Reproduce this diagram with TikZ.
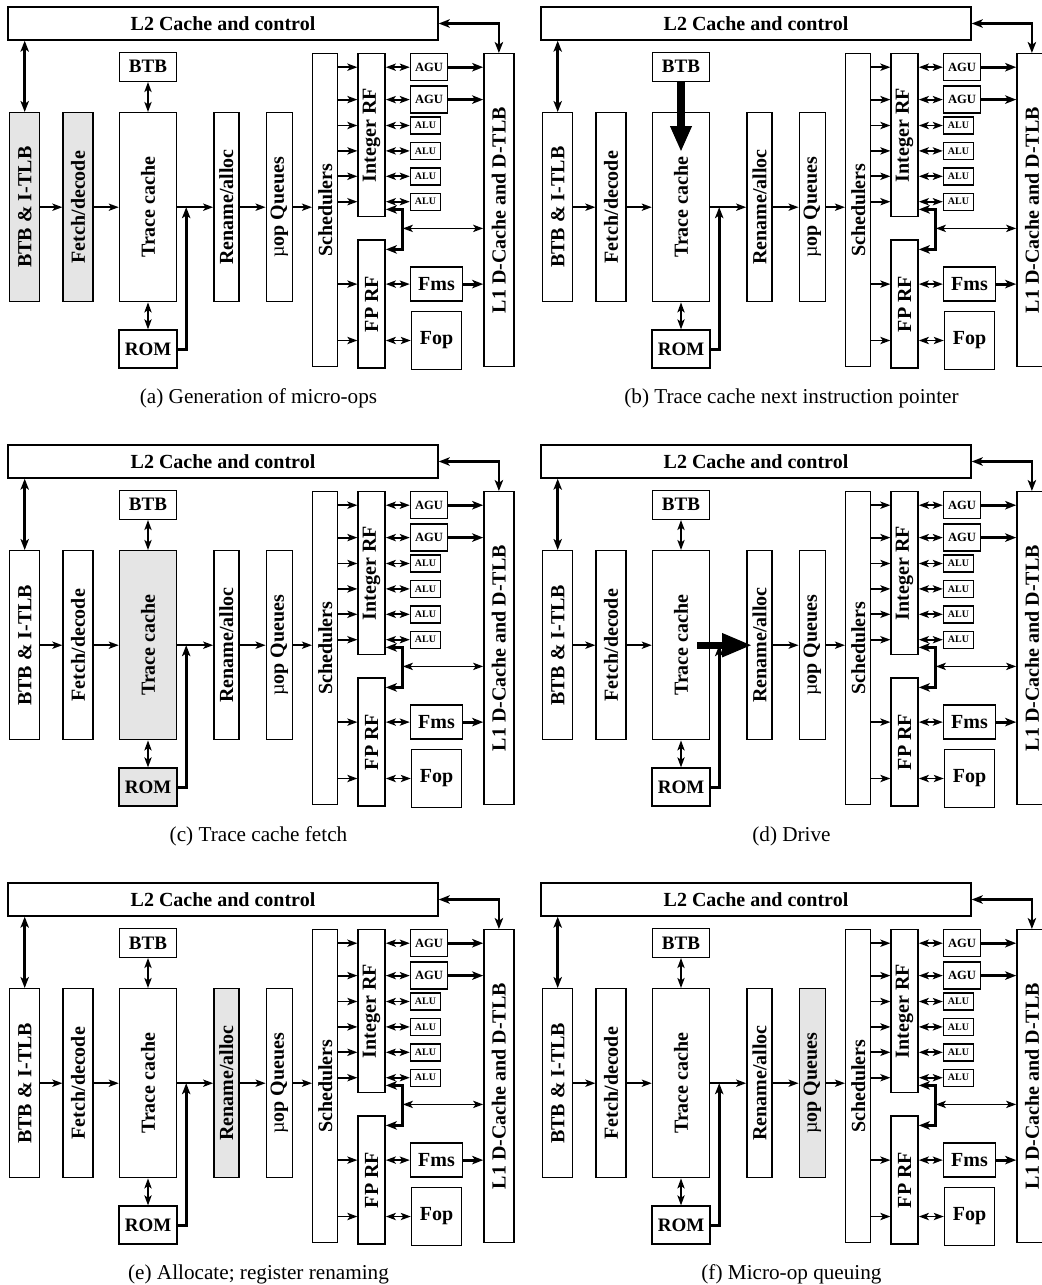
\documentclass[tikz,border=0pt]{standalone}
\usepackage{fontspec}
\setmainfont{Liberation Serif}
\usepackage{graphicx}
\usetikzlibrary{positioning,arrows.meta,calc}

\tikzset{
  box/.style={draw, line width=0.7pt, inner sep=0pt, align=center, font=\bfseries\fontsize{10}{12}\selectfont},
  tall/.style={box, minimum width=15pt, minimum height=94.5pt},
  agubox/.style={box, minimum width=18.5pt, minimum height=13.5pt, font=\bfseries\fontsize{6.3}{7}\selectfont},
  alubox/.style={box, minimum width=15pt, minimum height=8.5pt, font=\bfseries\fontsize{5}{6}\selectfont},
  hi/.style={fill=black!10},
  hlbpu/.style={}, hlfetch/.style={}, hltrace/.style={}, hlrom/.style={}, hlrename/.style={}, hlqueue/.style={},
  ln/.style={line width=0.9pt, >={Stealth[length=5pt,width=3.6pt,inset=1.2pt]}},
  thk/.style={line width=1.4pt, >={Stealth[length=5.5pt,width=4.2pt,inset=1.4pt]}},
  bigarrow/.style={line width=3.6pt, -{Triangle[length=13pt,width=10pt]}},
  captext/.style={font=\fontsize{10.6}{12}\selectfont}
}

% one pipeline panel: #1 name prefix, #2 caption
\newcommand{\stagepanel}[2]{%
  \node[box, minimum width=215pt, minimum height=16.5pt] (#1l2) at (111.5pt,-11.75pt) {L2 Cache and control};
  % front end
  \node[tall, hlbpu, anchor=north west] (#1bpu) at (4.5pt,-56pt) {\rotatebox{90}{BTB \& I-TLB}};
  \node[tall, hlfetch, right=11pt of #1bpu] (#1fetch) {\rotatebox{90}{Fetch/decode}};
  \node[tall, hltrace, minimum width=28.5pt, right=12.5pt of #1fetch] (#1trace) {\rotatebox{90}{Trace cache}};
  \node[tall, hlrename, minimum width=12.5pt, right=18pt of #1trace] (#1rename) {\rotatebox{90}{Rename/alloc}};
  \node[tall, hlqueue, minimum width=13pt, right=13pt of #1rename] (#1queue) {\rotatebox{90}{{\mdseries µ}op Queues}};
  \node[box, minimum width=28.5pt, minimum height=14.5pt, font=\bfseries\fontsize{9.5}{11}\selectfont, above=15pt of #1trace] (#1btb) {BTB};
  \node[box, hlrom, minimum width=29pt, minimum height=19pt, font=\bfseries\fontsize{9.5}{11}\selectfont, below=13.5pt of #1trace] (#1rom) {ROM};
  % back end
  \node[box, minimum width=12.5pt, minimum height=156.5pt, anchor=north west] (#1sched) at (156pt,-26.5pt) {\rotatebox{90}{Schedulers}};
  \node[box, minimum width=13.5pt, minimum height=81.5pt, right=9.5pt of #1sched.north east, anchor=north west] (#1intrf) {\rotatebox{90}{Integer RF}};
  \node[box, minimum width=13.5pt, minimum height=64pt, below=11pt of #1intrf] (#1fprf) {\rotatebox{90}{FP RF}};
  \node[agubox, right=12pt of #1intrf.north east, anchor=north west] (#1agu1) {AGU};
  \node[agubox, below=2pt of #1agu1] (#1agu2) {AGU};
  \node[alubox, below=1.25pt of #1agu2.south west, anchor=north west] (#1alu1) {ALU};
  \node[alubox, below=3.5pt of #1alu1] (#1alu2) {ALU};
  \node[alubox, below=3.5pt of #1alu2] (#1alu3) {ALU};
  \node[alubox, below=3.5pt of #1alu3] (#1alu4) {ALU};
  \node[box, minimum width=26pt, minimum height=17pt, below right=13.5pt and 12pt of #1fprf.north east] (#1fms) {Fms};
  \node[box, minimum width=25pt, minimum height=29pt, below=4.5pt of #1fms] (#1fop) {Fop};
  \node[box, minimum width=15pt, minimum height=156.5pt, right=17.5pt of #1agu1.north east, anchor=north west] (#1l1) {\rotatebox{90}{L1 D-Cache and D-TLB}};
  \node[captext] (#1cap) at (129.25pt,-199pt) {#2};
  % connectors
  \draw[thk,<->] (#1l2.south -| #1bpu) -- (#1bpu.north);
  \draw[thk,<->] (#1l2.east) -| (#1l1.north);
  \draw[ln,<->] (#1btb) -- (#1trace);
  \draw[ln,<->] (#1trace) -- (#1rom);
  \draw[ln,->] (#1bpu) -- (#1fetch);
  \draw[ln,->] (#1fetch) -- (#1trace);
  \draw[ln,->] (#1trace) -- (#1rename);
  \draw[ln,->] (#1rename) -- (#1queue);
  \draw[ln,->] (#1queue) -- (#1queue -| #1sched.west);
  \draw[thk,->] (#1rom) -| ($(#1trace.east)!0.25!(#1rename.west)$);
  \foreach \u in {agu1,agu2,alu1,alu2,alu3,alu4}{
    \draw[ln,->] (#1sched.east |- #1\u) -- (#1intrf.west |- #1\u);
    \draw[ln,<->] (#1intrf.east |- #1\u) -- (#1\u.west);
  }
  \foreach \u in {fms,fop}{
    \draw[ln,->] (#1sched.east |- #1\u) -- (#1fprf.west |- #1\u);
    \draw[ln,<->] (#1fprf.east |- #1\u) -- (#1\u.west);
  }
  \draw[thk,->] (#1agu1) -- (#1agu1 -| #1l1.west);
  \draw[thk,->] (#1agu2) -- (#1agu2 -| #1l1.west);
  \draw[thk,->] (#1fms) -- (#1fms -| #1l1.west);
  \draw[thk,<->] ($(#1intrf.south east)+(0,4pt)$) -- ++(8.5pt,0) |- ($(#1fprf.north east)+(0,-5pt)$);
  \coordinate (#1bus) at ($(#1intrf.south east)!0.5!(#1fprf.north east)+(8.5pt,0)$);
  \draw[ln,<->] (#1bus) -- (#1bus -| #1l1.west);
}

\begin{document}
\begin{tikzpicture}
\useasboundingbox (0,0) rectangle (521pt,-642.5pt);

\begin{scope}[hlbpu/.style={hi}, hlfetch/.style={hi}]
  \stagepanel{a}{(a) Generation of micro-ops}
\end{scope}

\begin{scope}[shift={(266.5pt,0pt)}]
  \stagepanel{b}{(b) Trace cache next instruction pointer}
  \coordinate (btip) at ($(bbtb.south)+(0,-35pt)$);
  \draw[bigarrow] (bbtb.south) -- (btip);
\end{scope}

\begin{scope}[shift={(0pt,-219pt)}, hltrace/.style={hi}, hlrom/.style={hi}]
  \stagepanel{c}{(c) Trace cache fetch}
\end{scope}

\begin{scope}[shift={(266.5pt,-219pt)}]
  \stagepanel{d}{(d) Drive}
  \coordinate (dfrom) at ($(dtrace.east)+(-6.5pt,0)$);
  \coordinate (dtip) at ($(drename.west)+(3pt,0)$);
  \draw[bigarrow, -{Triangle[length=15pt,width=11pt]}] (dfrom) -- (dtip);
\end{scope}

\begin{scope}[shift={(0pt,-438pt)}, hlrename/.style={hi}]
  \stagepanel{e}{(e) Allocate; register renaming}
\end{scope}

\begin{scope}[shift={(266.5pt,-438pt)}, hlqueue/.style={hi}]
  \stagepanel{f}{(f) Micro-op queuing}
\end{scope}
\end{tikzpicture}
\end{document}
